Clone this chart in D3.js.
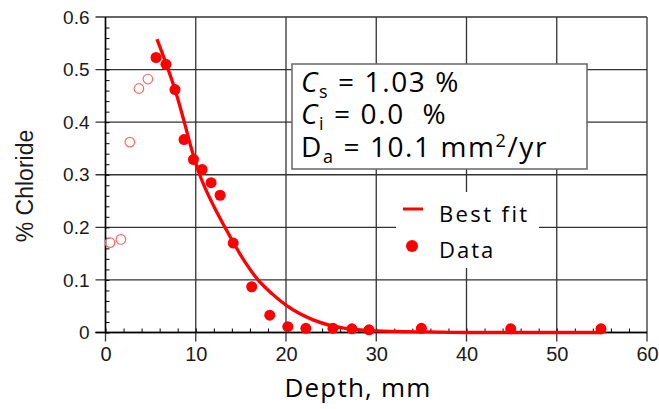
<!DOCTYPE html>
<html>
<head>
<meta charset="utf-8">
<script src="https://cdn.jsdelivr.net/npm/d3@7"></script>
<style>
  body { margin: 0; background: #fff; }
  .tick text { font-family: "Liberation Sans", Arial, sans-serif; fill: #1a1a1a; }
  .comic { font-family: "Comic Sans MS", "Open Sans", sans-serif; fill: #000; }
</style>
</head>
<body>
<script>
// chart values
var depthTicks = [0, 10, 20, 30, 40, 50, 60];
var chlorideTicks = [0, 0.1, 0.2, 0.3, 0.4, 0.5, 0.6];

// measured data (filled dots)
var dataDepth = [5.6, 6.7, 7.7, 8.7, 9.75, 10.7, 11.7, 12.7, 14.15, 16.2, 18.2, 20.2, 22.2, 25.2, 27.3, 29.2, 35.0, 44.9, 54.9];
var dataCl    = [0.523, 0.51, 0.462, 0.367, 0.329, 0.31, 0.285, 0.261, 0.170, 0.087, 0.033, 0.011, 0.008, 0.008, 0.007, 0.005, 0.008, 0.007, 0.007];

// excluded near-surface points (hollow)
var exclDepth = [0.5, 1.7, 2.7, 3.7, 4.7];
var exclCl    = [0.171, 0.177, 0.362, 0.464, 0.482];

// best fit line, traced
var fitDepth = [5.7, 6.7, 7.7, 8.7, 9.5, 10.4, 12.0, 13.3, 15.2, 16.9, 18.5, 20.0, 21.5, 23.0, 25.0, 27.0, 29.0, 32.0, 36.0, 40, 45, 50, 55];
var fitCl    = [0.558, 0.512, 0.462, 0.402, 0.351, 0.302, 0.240, 0.198, 0.141, 0.100, 0.073, 0.052, 0.036, 0.024, 0.013, 0.007, 0.004, 0.002, 0.001, 0, 0, 0, 0];

var W = 659, H = 409;
var pl = 105.5, pr = 647, pt = 17, pb = 332.5; // plot edges

var svg = d3.select("body").append("svg")
    .attr("width", W)
    .attr("height", H);

var x = d3.scaleLinear().domain([0, 60]).range([pl, pr]),
    y = d3.scaleLinear().domain([0, 0.6]).range([pb, pt]);

// grid lines (they poke 10px out past the axes like major ticks)
var grid = svg.append("g").attr("stroke", "#333").attr("stroke-width", 1.3);
grid.selectAll("line.h").data(chlorideTicks).enter().append("line")
    .attr("x1", pl - 10).attr("x2", pr)
    .attr("y1", function(d) { return y(d); })
    .attr("y2", function(d) { return y(d); });
grid.selectAll("line.v").data(depthTicks).enter().append("line")
    .attr("x1", function(d) { return x(d); })
    .attr("x2", function(d) { return x(d); })
    .attr("y1", pt).attr("y2", pb + 9);

// minor ticks pointing inward
svg.append("g")
   .attr("transform", "translate(" + pl + ",0)")
   .call(d3.axisLeft(y).tickValues(d3.range(0, 0.6, 0.02)).tickSize(-4).tickFormat(""))
   .call(function(g) { g.select(".domain").remove(); g.selectAll("line").attr("stroke", "#000"); });
svg.append("g")
   .attr("transform", "translate(0," + pb + ")")
   .call(d3.axisBottom(x).tickValues(d3.range(0, 60, 2)).tickSize(-4).tickFormat(""))
   .call(function(g) { g.select(".domain").remove(); g.selectAll("line").attr("stroke", "#000"); });

// axis lines
svg.append("line").attr("x1", pl).attr("x2", pl).attr("y1", pt).attr("y2", pb)
   .attr("stroke", "#000").attr("stroke-width", 1.5);
svg.append("line").attr("x1", pl - 10).attr("x2", pr).attr("y1", pb).attr("y2", pb)
   .attr("stroke", "#000").attr("stroke-width", 1.5);

// tick labels
svg.append("g")
   .attr("transform", "translate(" + (pl - 10) + ",0)")
   .call(d3.axisLeft(y).tickValues(chlorideTicks).tickSize(0).tickPadding(6).tickFormat(d3.format("")))
   .call(function(g) { g.select(".domain").remove(); g.selectAll("text").attr("font-size", 19); });
svg.append("g")
   .attr("transform", "translate(0," + (pb + 9) + ")")
   .call(d3.axisBottom(x).tickValues(depthTicks).tickSize(0).tickPadding(5))
   .call(function(g) { g.select(".domain").remove(); g.selectAll("text").attr("font-size", 20); });

// axis titles
svg.append("text")
   .attr("transform", "translate(33,186) rotate(-90)")
   .attr("text-anchor", "middle")
   .attr("font-family", "'Liberation Sans', Arial, sans-serif")
   .attr("font-size", 23)
   .attr("fill", "#1a1a1a")
   .text("% Chloride");
svg.append("text")
   .attr("class", "comic")
   .attr("x", 358).attr("y", 397)
   .attr("text-anchor", "middle")
   .attr("font-size", 26)
   .attr("letter-spacing", 1.2)
   .text("Depth, mm");

// best fit line
var valueLine = d3.line()
    .x(function(d) { return x(d[0]); })
    .y(function(d) { return y(d[1]); })
    .curve(d3.curveMonotoneX);
svg.append("path")
   .datum(d3.zip(fitDepth, fitCl))
   .attr("d", valueLine)
   .attr("fill", "none")
   .attr("stroke", "#ff0000")
   .attr("stroke-width", 3.3);

// hollow points
svg.selectAll("circle.excl").data(d3.zip(exclDepth, exclCl)).enter().append("circle")
   .attr("cx", function(d) { return x(d[0]); })
   .attr("cy", function(d) { return y(d[1]); })
   .attr("r", 4.8)
   .attr("fill", "none")
   .attr("stroke", "#ff6b6b")
   .attr("stroke-width", 1.2);

// filled points
svg.selectAll("circle.data").data(d3.zip(dataDepth, dataCl)).enter().append("circle")
   .attr("cx", function(d) { return x(d[0]); })
   .attr("cy", function(d) { return y(d[1]); })
   .attr("r", 5.5)
   .attr("fill", "#ff0000");

// parameter box
svg.append("rect")
   .attr("x", 292).attr("y", 64).attr("width", 295).attr("height", 105)
   .attr("fill", "#fff").attr("stroke", "#666").attr("stroke-width", 1.5);
var box = svg.append("g").attr("class", "comic").attr("font-size", 28).attr("letter-spacing", 1.6);
var l1 = box.append("text").attr("x", 301).attr("y", 92);
l1.append("tspan").attr("font-style", "italic").text("C");
l1.append("tspan").attr("font-size", 18).attr("dy", 6).text("s");
l1.append("tspan").attr("dy", -6).text(" = 1.03 %");
var l2 = box.append("text").attr("x", 301).attr("y", 124);
l2.append("tspan").attr("font-style", "italic").text("C");
l2.append("tspan").attr("font-size", 18).attr("dy", 6).text("i");
l2.append("tspan").attr("dy", -6).attr("xml:space", "preserve").text(" = 0.0  %");
var l3 = box.append("text").attr("x", 301).attr("y", 157);
l3.append("tspan").text("D");
l3.append("tspan").attr("font-size", 18).attr("dy", 6).text("a");
l3.append("tspan").attr("dy", -6).text(" = 10.1 mm");
l3.append("tspan").attr("font-size", 18).attr("dy", -10).text("2");
l3.append("tspan").attr("dy", 10).text("/yr");

// legend
svg.append("rect").attr("x", 396).attr("y", 192).attr("width", 143).attr("height", 76).attr("fill", "#fff");
svg.append("line").attr("x1", 403).attr("x2", 423).attr("y1", 209).attr("y2", 209)
   .attr("stroke", "#ff0000").attr("stroke-width", 3);
svg.append("circle").attr("cx", 412).attr("cy", 246).attr("r", 6).attr("fill", "#ff0000");
svg.append("text").attr("class", "comic").attr("x", 439).attr("y", 222).attr("font-size", 22)
   .attr("letter-spacing", 2.4).text("Best fit");
svg.append("text").attr("class", "comic").attr("x", 439).attr("y", 258).attr("font-size", 22)
   .attr("letter-spacing", 2).text("Data");
</script>
</body>
</html>
